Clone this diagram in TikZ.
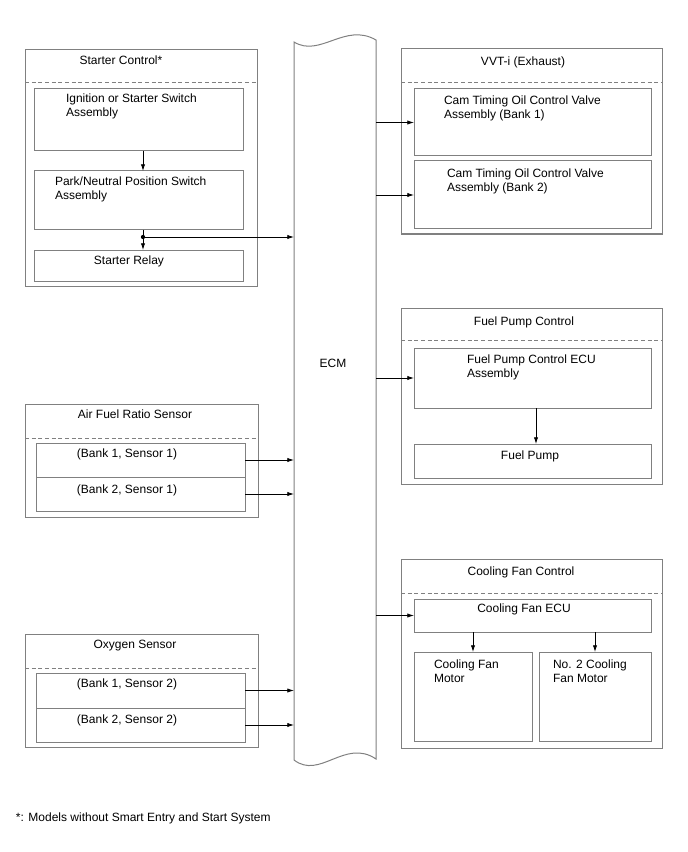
\documentclass[tikz,border=0pt]{standalone}
\usepackage{fontspec}
\setmainfont{Liberation Sans}
\usetikzlibrary{arrows.meta}
\definecolor{boxgray}{RGB}{128,128,128}
\newcommand{\mkbox}[5]{\node[boxst, minimum width={(#4-#2)*0.75pt}, minimum height={(#5-#3)*0.75pt}] (#1) at ({(#2+#4)/2},{(#3+#5)/2}) {};}
\tikzset{
  boxst/.style={draw=boxgray, line width=0.75pt, inner sep=0pt, outer sep=0pt},
  dashline/.style={draw=boxgray, line width=0.75pt, dash pattern=on 3pt off 2pt},
  arr/.style={draw=black, line width=0.6pt, -{Latex[length=5pt,width=3.2pt]}},
  ln/.style={draw=black, line width=0.6pt},
  lbl/.style={inner sep=0pt, outer sep=0pt, font=\fontsize{9}{10.5}\selectfont},
  mlbl/.style={lbl, anchor=north west, align=left},
  clbl/.style={lbl, anchor=base},
}
\begin{document}
\begin{tikzpicture}[x=0.75pt, y=-0.75pt]
\useasboundingbox (0,0) rectangle (688,852);
% ECM
\node[inner sep=0pt, outer sep=0pt, minimum width={82*0.75pt}, minimum height={718*0.75pt}] (ecm) at (335,401) {};
\draw[boxst] (294,42) .. controls (320,58) and (345,22) .. (376,40) -- (376,759)
  .. controls (345,738) and (320,780) .. (294,760) -- cycle;
\node[clbl] (ecmt) at (333,367) {ECM};
% Starter control
\mkbox{stc}{25}{50}{257}{286}
\draw[dashline] (25,83) -- (257,83);
\node[clbl] (stct) at (121,65) {Starter Control*};
\mkbox{ign}{34}{89}{243}{151}
\node[mlbl] (ignt) at (66,93.5) {Ignition or Starter Switch\\Assembly};
\mkbox{park}{34}{171}{243}{230}
\node[mlbl] (parkt) at (55,176.5) {Park/Neutral Position Switch\\Assembly};
\mkbox{relay}{34}{250}{243}{281}
\node[clbl] (relayt) at (129,264) {Starter Relay};
\coordinate (jct) at (143,237);
\draw[arr] (ign.south -| jct) -- (park.north -| jct);
\draw[ln] (park.south -| jct) -- (jct);
\draw[arr] (jct) -- (relay.north -| jct);
\draw[arr] (jct) -- (jct -| ecm.west);
\fill (jct) circle (1.6pt);
% Air fuel ratio sensor
\mkbox{afr}{25}{404}{258}{517}
\draw[dashline] (25,438) -- (258,438);
\node[clbl] (afrt) at (135,418) {Air Fuel Ratio Sensor};
\mkbox{afa}{36}{443}{245}{477}
\mkbox{afb}{36}{477}{245}{511}
\node[clbl] (afat) at (127,457) {(Bank 1, Sensor 1)};
\node[clbl] (afbt) at (127,493) {(Bank 2, Sensor 1)};
\draw[arr] (afa.east) -- (afa.east -| ecm.west);
\draw[arr] (afb.east) -- (afb.east -| ecm.west);
% Oxygen sensor
\mkbox{oxy}{25}{634}{258}{747}
\draw[dashline] (25,668) -- (258,668);
\node[clbl] (oxyt) at (135,648) {Oxygen Sensor};
\mkbox{oxa}{36}{673}{245}{708}
\mkbox{oxb}{36}{708}{245}{742}
\node[clbl] (oxat) at (127,687) {(Bank 1, Sensor 2)};
\node[clbl] (oxbt) at (127,723) {(Bank 2, Sensor 2)};
\draw[arr] (oxa.east) -- (oxa.east -| ecm.west);
\draw[arr] (oxb.east) -- (oxb.east -| ecm.west);
% VVT-i
\mkbox{vvt}{401}{49}{662}{234}
\draw[dashline] (401,83) -- (662,83);
\node[clbl] (vvtt) at (523,66) {VVT-i (Exhaust)};
\mkbox{cam1}{414}{89}{651}{156}
\node[mlbl] (cam1t) at (444,95.5) {Cam Timing Oil Control Valve\\Assembly (Bank 1)};
\mkbox{cam2}{414}{161}{651}{229}
\node[mlbl] (cam2t) at (447,168.5) {Cam Timing Oil Control Valve\\Assembly (Bank 2)};
\draw[arr] (cam1.west -| ecm.east) -- (cam1.west);
\draw[arr] (cam2.west -| ecm.east) -- (cam2.west);
% Fuel pump control
\mkbox{fpc}{401}{308}{662}{484}
\draw[dashline] (401,340) -- (662,340);
\node[clbl] (fpct) at (524,325) {Fuel Pump Control};
\mkbox{fecu}{414}{348}{651}{408}
\node[mlbl] (fecut) at (467,354.5) {Fuel Pump Control ECU\\Assembly};
\mkbox{fp}{414}{444}{651}{478}
\node[clbl] (fpt) at (530,459) {Fuel Pump};
\coordinate (fpx) at (536,0);
\draw[arr] (fecu.west -| ecm.east) -- (fecu.west);
\draw[arr] (fecu.south -| fpx) -- (fp.north -| fpx);
% Cooling fan control
\mkbox{cfc}{401}{559}{662}{748}
\draw[dashline] (401,593) -- (662,593);
\node[clbl] (cfct) at (521,575) {Cooling Fan Control};
\mkbox{cecu}{414}{599}{651}{632}
\node[clbl] (cecut) at (524,612) {Cooling Fan ECU};
\mkbox{fm1}{414}{652}{532}{741}
\node[mlbl] (fm1t) at (434,659.5) {Cooling Fan\\Motor};
\mkbox{fm2}{539}{652}{651}{741}
\node[mlbl] (fm2t) at (553,659.5) {No. 2 Cooling\\Fan Motor};
\draw[arr] (cecu.west -| ecm.east) -- (cecu.west);
\draw[arr] (fm1.north |- cecu.south) -- (fm1.north);
\draw[arr] (fm2.north |- cecu.south) -- (fm2.north);
% footnote
\node[lbl, anchor=base west] (note) at (16,821) {*: Models without Smart Entry and Start System};
\end{tikzpicture}
\end{document}
